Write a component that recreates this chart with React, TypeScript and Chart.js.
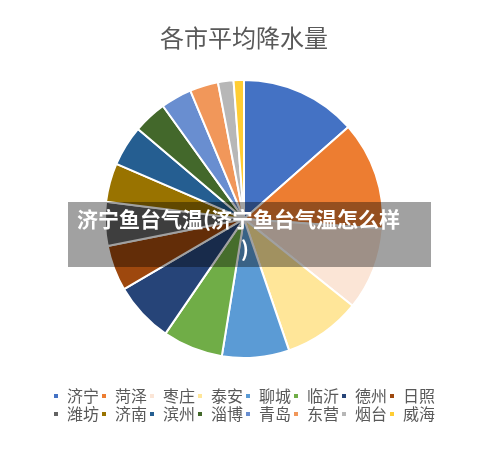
import React, { useEffect, useRef } from "react";
import { Chart, registerables } from "chart.js";

Chart.register(...registerables);

// cities, clockwise from 12 o'clock
const cities = [
  "济宁", "菏泽", "枣庄", "泰安", "聊城", "临沂", "德州", "日照",
  "潍坊", "济南", "滨州", "淄博", "青岛", "东营", "烟台", "威海",
];

// share of each city
const rainfall = [
  13.5, 12.6, 9.6, 9.0, 7.8, 7.0, 7.0, 5.3,
  5.1, 4.5, 4.7, 3.9, 3.6, 3.3, 1.8, 1.2,
];

const sliceColors = [
  "#4472C4", "#ED7D31", "#FBE5D6", "#FFE699", "#5B9BD5", "#70AD47", "#264478", "#9E480E",
  "#636363", "#997300", "#255E91", "#43682B", "#698ED0", "#F1975A", "#B7B7B7", "#FFCD33",
];

const chartTitle = "各市平均降水量";
const bannerLine1 = "济宁鱼台气温(济宁鱼台气温怎么样";
const bannerLine2 = ")";

const App: React.FC = () => {
  const canvasRef = useRef<HTMLCanvasElement | null>(null);
  const chartRef = useRef<Chart | null>(null);

  useEffect(() => {
    if (!canvasRef.current) return;

    if (chartRef.current) {
      chartRef.current.destroy();
    }

    Chart.defaults.font.family = '"Noto Sans CJK SC", "Noto Sans", sans-serif';

    chartRef.current = new Chart(canvasRef.current, {
      type: "pie",
      data: {
        labels: cities,
        datasets: [
          {
            data: rainfall,
            backgroundColor: sliceColors,
            borderColor: "#ffffff",
            borderWidth: 2,
            radius: 139,
          },
        ],
      },
      options: {
        responsive: true,
        maintainAspectRatio: false,
        animation: false,
        layout: {
          padding: { left: 34, right: 46, top: 0, bottom: 30 },
        },
        plugins: {
          title: {
            display: true,
            text: chartTitle,
            color: "#595959",
            font: { size: 24, weight: "normal" },
            padding: { top: 15, bottom: 0 },
          },
          legend: {
            position: "bottom",
            labels: {
              color: "#595959",
              font: { size: 16 },
              boxWidth: 6,
              boxHeight: 6,
              padding: 2,
            },
          },
          tooltip: { enabled: false },
        },
      },
    });

    return () => {
      chartRef.current?.destroy();
      chartRef.current = null;
    };
  }, []);

  return (
    <div style={{ position: "relative", width: "484px", height: "454px" }}>
      <canvas ref={canvasRef} />
      <div
        style={{
          position: "absolute",
          left: "60px",
          top: "194px",
          width: "363px",
          height: "65px",
          background: "rgba(0, 0, 0, 0.37)",
          color: "#ffffff",
          fontFamily: '"Noto Sans CJK SC", sans-serif',
          fontWeight: 700,
          fontSize: "21px",
          lineHeight: "30px",
          paddingTop: "1px",
          boxSizing: "border-box",
          textAlign: "center",
        }}
      >
        <div style={{ paddingRight: "22px" }}>{bannerLine1}</div>
        <div style={{ paddingRight: "9px" }}>{bannerLine2}</div>
      </div>
    </div>
  );
};

export default App;
